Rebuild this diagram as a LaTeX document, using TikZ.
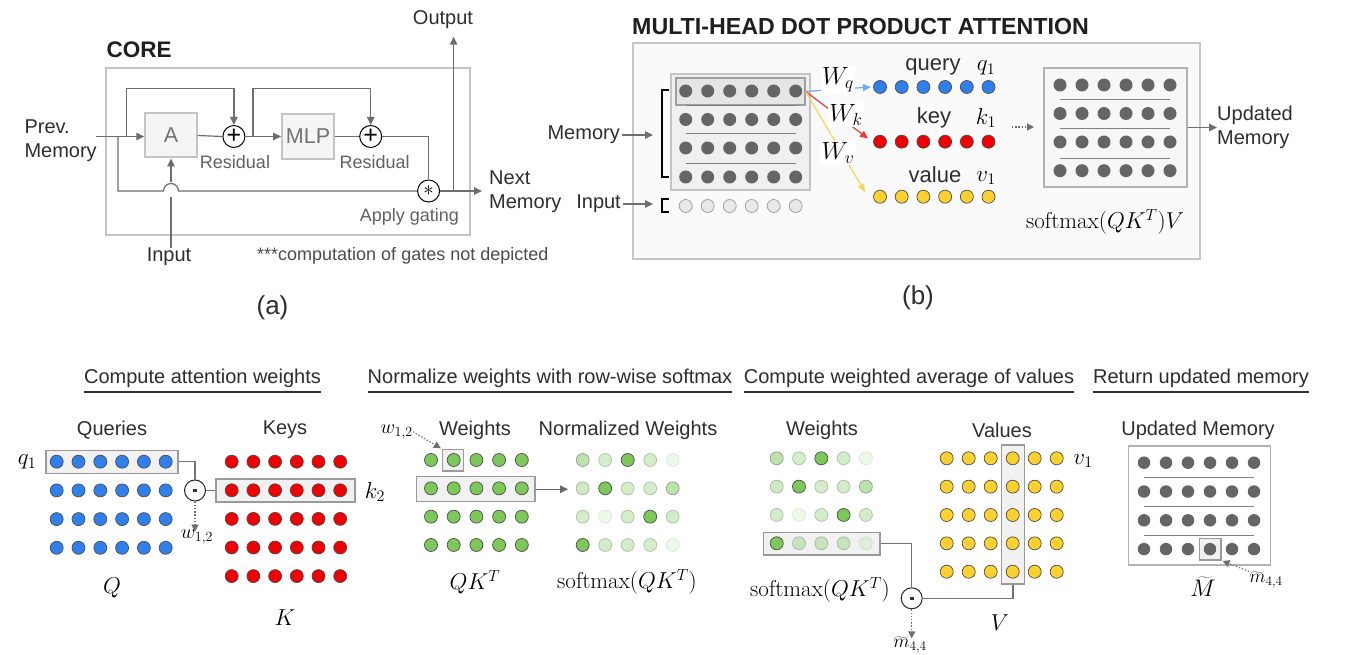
\RequirePackage{fix-cm}
\documentclass[tikz,border=0pt]{standalone}
\usepackage{fontspec}
\setsansfont{Liberation Sans}
\usetikzlibrary{arrows.meta}

\definecolor{linegray}{HTML}{6E6E6E}
\definecolor{boxgray}{HTML}{C4C4C4}
\definecolor{dotgray}{HTML}{656565}
\definecolor{qblue}{HTML}{2F80ED}
\definecolor{kred}{HTML}{F00000}
\definecolor{vgold}{HTML}{FCD12F}
\definecolor{wgreen}{HTML}{7CC95A}
\definecolor{hlfill}{HTML}{F1F1F1}
\definecolor{hldraw}{HTML}{9A9A9A}
\definecolor{wqline}{HTML}{72ABF2}
\definecolor{wkline}{HTML}{F03A3A}
\definecolor{wvline}{HTML}{F7D45C}

\begin{document}
\begin{tikzpicture}[x=1pt,y=-1pt,
  tx/.style={font=\sffamily\fontsize{20}{24.5}\selectfont, text=black!82, inner sep=0},
  ttl/.style={font=\sffamily\bfseries\fontsize{22.5}{26}\selectfont, text=black!88, inner sep=0},
  gtx/.style={font=\sffamily\fontsize{18}{22}\selectfont, text=black!62, inner sep=0},
  mth/.style={font=\fontsize{23}{27}\selectfont, inner sep=0},
  mths/.style={font=\fontsize{20}{24}\selectfont, inner sep=0},
  conn/.style={draw=linegray, line width=1.2},
  flowline/.style={conn, -{Triangle[length=8pt,width=7.5pt]}},
  dflow/.style={draw=linegray, line width=1.1, dash pattern=on 1.4pt off 1.8pt, -{Triangle[length=7pt,width=7pt]}},
  blk/.style={draw=boxgray, fill=black!4, line width=2, text=black!55, font=\sffamily\fontsize{21.5}{24}\selectfont, inner sep=0},
  opc/.style={circle, draw=black, line width=1, fill=white, minimum size=22, inner sep=0},
  dotop/.style={opc, minimum size=21, draw=black!85,
    path picture={\fill[black!80] ([xshift=-1.8pt,yshift=-1.8pt]path picture bounding box.center) rectangle ([xshift=1.8pt,yshift=1.8pt]path picture bounding box.center);}},
  hlbox/.style={draw=hldraw, fill=hlfill, line width=1.2, inner sep=0},
  panelbox/.style={draw=boxgray, line width=2, inner sep=0},
  sepline/.style={draw=black!50, line width=1},
  dotbase/.style={circle, inner sep=0, minimum size=13, line width=0.7},
  graydot/.style={dotbase, fill=dotgray},
  bluedot/.style={dotbase, fill=qblue, draw=black!70},
  reddot/.style={dotbase, fill=kred, draw=black!70},
  golddot/.style={dotbase, fill=vgold, draw=black!70},
  greendot/.style={dotbase, fill=wgreen, draw=black!70},
  inputdot/.style={dotbase, fill=black!9, draw=black!40},
  uline/.style={draw=black!80, line width=1.3}
]
\fill[white] (0,0) rectangle (1347,655);
\useasboundingbox (0,0) rectangle (1347,655);

%================ (a) CORE ================
\node[ttl, anchor=west] (coreT) at (106.4,49.3) {CORE};
\node[panelbox, fill=white, minimum width=363.6, minimum height=167] (coreBox) at (288.2,151.8) {};
\node[blk, minimum width=51.4, minimum height=44] (A) at (171,135.5) {A};
\node[blk, minimum width=51.8, minimum height=45] (MLP) at (308,136.5) {MLP};
\node[opc, font=\sffamily\fontsize{25}{25}\selectfont] (p1) at (233.9,136.5) {+};
\node[opc, font=\sffamily\fontsize{25}{25}\selectfont] (p2) at (370.7,136.5) {+};
\node[opc, font=\fontsize{21}{21}\selectfont] (gate) at (428.6,191) {$\ast$};

\node[gtx] (res1) at (235,161.7) {Residual};
\node[gtx] (res2) at (374.6,161.7) {Residual};
\node[gtx] (gateT) at (409.5,217.3) {Apply gating};

\node[tx, anchor=west, align=left] (prev) at (24.3,140.8) {Prev.\\Memory};
\node[tx] (input) at (169,256.7) {Input};
\node[tx] (outT) at (443,20) {Output};
\node[tx, anchor=west, align=left] (next) at (489,191.5) {Next\\Memory};
\node[gtx, text=black!70, anchor=west] (note) at (257,256) {***computation of gates not depicted};
\node[tx, font=\sffamily\fontsize{26}{30}\selectfont] (capA) at (272.5,308) {(a)};

\coordinate (s0) at (95.7,136.5);
\coordinate (b1) at (126.8,136.5);
\coordinate (b2) at (117.9,136.5);
\coordinate (b3) at (252.9,136.5);
\coordinate (topA) at (0,88.3);
\coordinate (hopL) at (163.5,191);
\coordinate (hopB) at (171,197);
\coordinate (hopT) at (171,182.5);
\coordinate (ob) at (453.6,191);
\coordinate (oTop) at (453.6,36.7);
\coordinate (nArr) at (482,191);

\draw[flowline] (s0) -- (s0 -| A.west);
\draw[flowline] (b1) -- (b1 |- topA) -| (p1.north);
\draw[conn] (A.east) -- (p1.west);
\draw[flowline] (p1.east) -- (MLP.west);
\draw[flowline] (b3) -- (b3 |- topA) -| (p2.north);
\draw[conn] (MLP.east) -- (p2.west);
\draw[conn] (p2.east) -| (gate.north);
\draw[conn] (b2) |- (hopL) arc[start angle=180, end angle=360, radius=7.5] -- (gate.west);
\draw[conn] (input.north -| A.south) -- (hopB);
\draw[flowline] (hopT) -- (A.south);
\draw[flowline] (gate.east) -- (nArr);
\draw[flowline] (ob) -- (oTop);

%================ (b) MULTI-HEAD DOT PRODUCT ATTENTION ================
\node[ttl, font=\sffamily\bfseries\fontsize{23.2}{26}\selectfont, anchor=west] (mhT) at (632,27) {MULTI-HEAD DOT PRODUCT ATTENTION};
\node[panelbox, fill=black!2, draw=black!22, minimum width=567, minimum height=216] (mhBox) at (916.5,151) {};
\node[draw=boxgray, fill=black!6, line width=1.5, minimum width=139, minimum height=116, inner sep=0] (memBox) at (740.5,132) {};
\node[draw=black!38, fill=black!10, line width=1.2, minimum width=129, minimum height=27, inner sep=0] (hlrow) at (740.5,91.5) {};
\foreach \y in {105.3,134,163.3} \draw[sepline] (685.7,\y) -- (795.7,\y);
\foreach \r/\y in {0/91,1/119.5,2/148,3/177}{
  \foreach \c in {0,...,5}{\node[graydot] (m-\r-\c) at ({685.7+22*\c},\y) {};}}
\foreach \c in {0,...,5}{\node[inputdot] (in-\c) at ({685.7+22*\c},206) {};}
\draw[black, line width=2] (669,90) -- (662,90) -- (662,177.5) -- (669,177.5);
\draw[black, line width=2] (669,199) -- (662,199) -- (662,212.5) -- (669,212.5);

\node[tx, anchor=east] (memL) at (620,135) {Memory};
\node[tx, anchor=east] (inL) at (621,204) {Input};
\coordinate (memArr) at (653,135);
\coordinate (inArr) at (653,204);
\draw[flowline] ([xshift=2pt]memL.east) -- (memArr);
\draw[flowline] ([xshift=2pt]inL.east) -- (inArr);

\foreach \c in {0,...,5}{
  \node[bluedot] (qd\c) at ({880+21.7*\c},87) {};
  \node[reddot] (kd\c) at ({880+21.7*\c},141.7) {};
  \node[golddot] (vd\c) at ({880+21.7*\c},196.7) {};}
\node[tx, font=\sffamily\fontsize{22}{26}\selectfont] (qT) at (933,67) {query};
\node[tx, font=\sffamily\fontsize{22}{26}\selectfont] (kT) at (934,118) {key};
\node[tx, font=\sffamily\fontsize{22}{26}\selectfont] (vT) at (935,175) {value};
\node[mth] (q1b) at (986,68) {$q_1$};
\node[mth] (k1b) at (986,118) {$k_1$};
\node[mth] (v1b) at (986,178) {$v_1$};

\coordinate (wqE) at (871,87);
\coordinate (wkE) at (868,138.5);
\coordinate (wvE) at (865,192);
\draw[draw=wqline, line width=1.2, -{Triangle[length=8pt,width=7pt]}] (hlrow.east) -- (wqE);
\draw[draw=wkline, line width=1.2, -{Triangle[length=8pt,width=7pt]}] (hlrow.east) -- (wkE);
\draw[draw=wvline, line width=1.2, -{Triangle[length=8pt,width=7pt]}] (hlrow.east) -- (wvE);
\node[mth, font=\fontsize{25}{29}\selectfont, fill=white, inner sep=1.5pt] (Wq) at (838,80) {$W_q$};
\node[mth, font=\fontsize{25}{29}\selectfont, fill=white, inner sep=1.5pt] (Wk) at (846,115) {$W_k$};
\node[mth, font=\fontsize{25}{29}\selectfont, fill=white, inner sep=1.5pt] (Wv) at (838,153) {$W_v$};

\coordinate (da1) at (1012,127);
\coordinate (da2) at (1034,127);
\draw[dflow] (da1) -- (da2);

\node[draw=black!30, fill=black!3, line width=1.5, minimum width=143, minimum height=119, inner sep=0] (umb) at (1115.5,127.5) {};
\foreach \y in {100,129,158.3} \draw[sepline] (1060,\y) -- (1170,\y);
\foreach \r/\y in {0/85,1/113.5,2/142,3/170.7}{
  \foreach \c in {0,...,5}{\node[graydot] (u-\r-\c) at ({1060+22*\c},\y) {};}}
\coordinate (umArr) at (1217,127.5);
\draw[flowline] (umb.east) -- (umArr);
\node[tx, anchor=west, align=left] (umT) at (1217,127.5) {Updated\\Memory};
\node[mth] (smV) at (1105,222) {$\mathrm{softmax}(QK^T)V$};
\node[tx, font=\sffamily\fontsize{26}{30}\selectfont] (capB) at (918,298) {(b)};

%================ Step 1: attention weights ================
\coordinate (ul) at (0,392);
\node[tx] (h1) at (202.5,378) {Compute attention weights};
\draw[uline] (h1.west |- ul) -- (h1.east |- ul);
\node[tx] (quT) at (112,430) {Queries};
\node[tx] (keT) at (285,430) {Keys};
\node[hlbox, minimum width=132, minimum height=23] (q1box) at (112,461.7) {};
\node[hlbox, minimum width=139, minimum height=23] (k2box) at (285.5,490.5) {};
\foreach \r in {0,...,3}{\foreach \c in {0,...,5}{
  \node[bluedot] (Q-\r-\c) at ({56.7+21.8*\c},{461.7+28.7*\r}) {};}}
\foreach \r in {0,...,4}{\foreach \c in {0,...,5}{
  \node[reddot] (K-\r-\c) at ({231.7+21.7*\c},{461.7+28.6*\r}) {};}}
\node[mth] (q1a) at (27,462) {$q_1$};
\node[mth] (k2a) at (375,492) {$k_2$};
\node[dotop] (dp1) at (195,490.5) {};
\draw[conn, draw=black!55] (q1box.east) -| (dp1.north);
\draw[conn, draw=black!55] (dp1.east) -- (k2box.west);
\node[mths] (w12a) at (197,537) {$w_{1,2}$};
\draw[dflow] (dp1.south) -- ([yshift=-2pt]dp1.south |- w12a.north);
\node[mth] (Qlab) at (112,588) {$Q$};
\node[mth] (Klab) at (285,618) {$K$};

%================ Step 2: softmax ================
\node[tx] (h2) at (550,378) {Normalize weights with row-wise softmax};
\draw[uline] (h2.west |- ul) -- (h2.east |- ul);
\node[tx] (weT) at (475,430) {Weights};
\node[tx] (nwT) at (628,430) {Normalized Weights};
\node[hlbox, minimum width=21, minimum height=21.7] (wsel) at (452.8,460.2) {};
\node[hlbox, minimum width=118.3, minimum height=25] (wrow) at (475.9,489.2) {};
\foreach \r in {0,...,3}{\foreach \c in {0,...,4}{
  \node[greendot] (W-\r-\c) at ({431+22.7*\c},{460+28.33*\r}) {};}}
\foreach \r/\c/\o in {0/0/.5,0/1/.33,0/2/1,0/3/.33,0/4/.13,
                      1/0/.38,1/1/1,1/2/.33,1/3/.33,1/4/.5,
                      2/0/.33,2/1/.13,2/2/.33,2/3/1,2/4/.33,
                      3/0/1,3/1/.33,3/2/.33,3/3/.33,3/4/.13}{
  \node[greendot, opacity=\o] (N-\r-\c) at ({582.7+22.5*\c},{460+28.33*\r}) {};}
\node[mths] (w12b) at (396.7,431.7) {$w_{1,2}$};
\draw[dflow, shorten >=1pt] (w12b.east) -- (wsel.north west);
\coordinate (nArr2) at (568,489.2);
\draw[flowline, draw=black!60] (wrow.east) -- (nArr2);
\node[mth] (qkT) at (475,582) {$QK^T$};
\node[mth] (smT) at (627,582) {$\mathrm{softmax}(QK^T)$};

%================ Step 3: weighted average ================
\node[tx] (h3) at (909,378) {Compute weighted average of values};
\draw[uline] (h3.west |- ul) -- (h3.east |- ul);
\node[tx] (we3T) at (822,430) {Weights};
\node[tx] (vaT) at (1002,430) {Values};
\node[hlbox, minimum width=116.7, minimum height=22.3] (w3row) at (821.7,543.8) {};
\node[hlbox, minimum width=22.6, minimum height=139] (vcol) at (1013,514.5) {};
\foreach \r/\c/\o in {0/0/.5,0/1/.33,0/2/1,0/3/.33,0/4/.13,
                      1/0/.38,1/1/1,1/2/.33,1/3/.33,1/4/.5,
                      2/0/.33,2/1/.13,2/2/.33,2/3/1,2/4/.33,
                      3/0/1,3/1/.33,3/2/.33,3/3/.33,3/4/.13}{
  \node[greendot, opacity=\o] (S-\r-\c) at ({776.7+22.3*\c},{458.3+28.33*\r}) {};}
\foreach \r in {0,...,4}{\foreach \c in {0,...,5}{
  \node[golddot] (V-\r-\c) at ({946.7+22*\c},{458.3+28.35*\r}) {};}}
\node[mth] (v1a) at (1083,461) {$v_1$};
\node[dotop] (dp2) at (911.7,598.3) {};
\draw[conn, draw=black!55] (w3row.east) -| (dp2.north);
\draw[conn, draw=black!55] (vcol.south) |- (dp2.east);
\node[mth] (sm3) at (820,590) {$\mathrm{softmax}(QK^T)$};
\node[mth] (Vlab) at (1000,623) {$V$};
\node[mths, font=\fontsize{19}{22}\selectfont] (m44a) at (910,645) {$\widetilde{m}_{4,4}$};
\draw[dflow] (dp2.south) -- ([yshift=-2pt]dp2.south |- m44a.north);

%================ Step 4: updated memory ================
\node[tx] (h4) at (1201,378) {Return updated memory};
\draw[uline] (h4.west |- ul) -- (h4.east |- ul);
\node[tx] (umT2) at (1198,430) {Updated Memory};
\node[draw=black!30, fill=white, line width=1.5, minimum width=142.4, minimum height=119, inner sep=0] (umb2) at (1199.5,505.5) {};
\foreach \y in {477.3,506.7,535.7} \draw[sepline] (1144,\y) -- (1254,\y);
\node[hlbox, minimum width=21.7, minimum height=21.7] (msel) at (1210.2,549.2) {};
\foreach \r in {0,...,3}{\foreach \c in {0,...,5}{
  \node[graydot, minimum size=12.5] (R-\r-\c) at ({1144+22*\c},{462.7+28.8*\r}) {};}}
\node[mth, font=\fontsize{24}{28}\selectfont] (Mt) at (1203,587) {$\widetilde{M}$};
\node[mths, font=\fontsize{19}{22}\selectfont] (m44b) at (1266,580) {$\widetilde{m}_{4,4}$};
\draw[dflow, shorten >=1pt] (m44b.north west) -- (msel.south east);

\end{tikzpicture}
\end{document}
